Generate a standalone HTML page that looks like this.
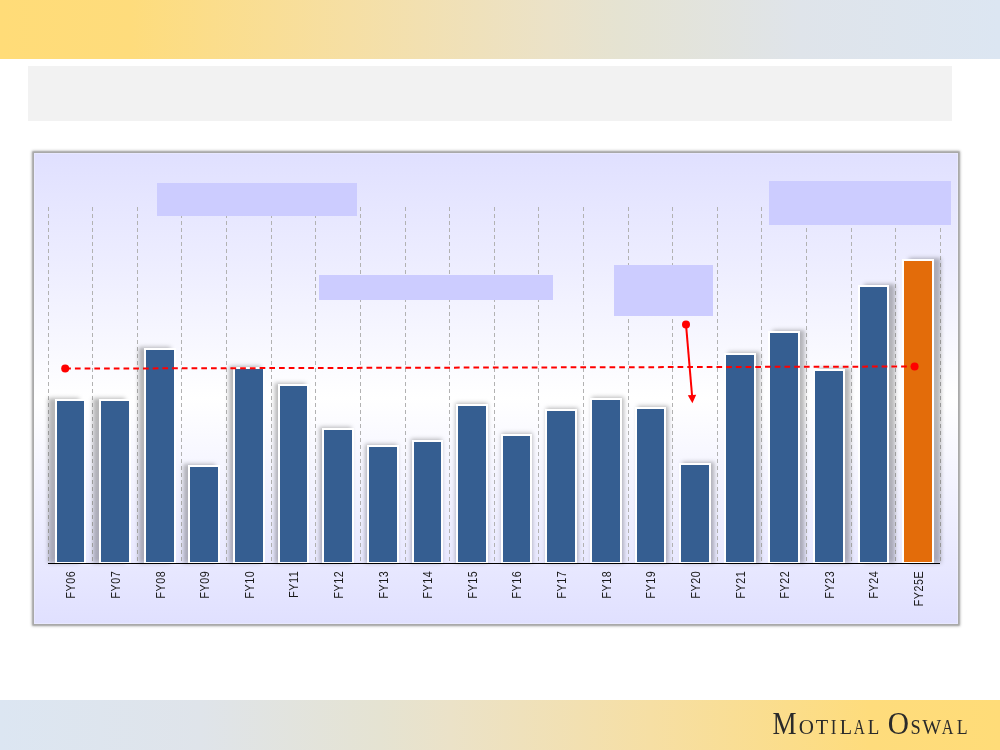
<!DOCTYPE html>
<html><head><meta charset="utf-8">
<style>
html,body{margin:0;padding:0;}
body{width:1000px;height:750px;position:relative;overflow:hidden;background:#fff;font-family:"Liberation Sans",sans-serif;}
.topband{position:absolute;left:0;top:0;width:1000px;height:59px;background:linear-gradient(90deg,#FFDC78 0%,#FEDC7C 13%,#F6DFA4 35%,#EBE2C8 55%,#E5E3D2 62%,#DFE4EA 80%,#DCE6F2 100%);}
.botband{position:absolute;left:0;top:700px;width:1000px;height:50px;background:linear-gradient(90deg,#DCE6F2 0%,#DFE4EA 20%,#E5E3D2 38%,#EBE2C8 45%,#F6DFA4 65%,#FEDC7C 87%,#FFDC78 100%);}
.graybox{position:absolute;left:28px;top:66px;width:924px;height:55px;background:#F2F2F2;}
.panel{position:absolute;left:34px;top:153px;width:924px;height:471px;background:linear-gradient(180deg,#E0E0FF 0%,#EEEEFF 25%,#FFFFFF 52%,#EEEEFF 78%,#E0E0FF 100%);box-shadow:inset 0 0 0 1px rgba(255,255,255,0.25),0 0 0 1.5px #A9A9A9,0 0 2.5px 2px rgba(150,150,150,0.9);}
svg{position:absolute;left:0;top:0;}
.box{position:absolute;background:#CCCCFF;}
</style></head><body>
<div class="topband"></div>
<div class="graybox"></div>
<div class="panel"></div>
<svg width="1000" height="750">
<defs><filter id="sh" x="-50%" y="-10%" width="200%" height="120%"><feGaussianBlur stdDeviation="2.3"/></filter></defs>
<g stroke="#B2B2B2" stroke-width="1" stroke-dasharray="4 3">
<line x1="48.5" y1="207" x2="48.5" y2="563"/><line x1="92.5" y1="207" x2="92.5" y2="563"/><line x1="137.5" y1="207" x2="137.5" y2="563"/><line x1="181.5" y1="207" x2="181.5" y2="563"/><line x1="226.5" y1="207" x2="226.5" y2="563"/><line x1="271.5" y1="207" x2="271.5" y2="563"/><line x1="315.5" y1="207" x2="315.5" y2="563"/><line x1="360.5" y1="207" x2="360.5" y2="563"/><line x1="405.5" y1="207" x2="405.5" y2="563"/><line x1="449.5" y1="207" x2="449.5" y2="563"/><line x1="494.5" y1="207" x2="494.5" y2="563"/><line x1="538.5" y1="207" x2="538.5" y2="563"/><line x1="583.5" y1="207" x2="583.5" y2="563"/><line x1="628.5" y1="207" x2="628.5" y2="563"/><line x1="672.5" y1="207" x2="672.5" y2="563"/><line x1="717.5" y1="207" x2="717.5" y2="563"/><line x1="761.5" y1="207" x2="761.5" y2="563"/><line x1="806.5" y1="207" x2="806.5" y2="563"/><line x1="851.5" y1="207" x2="851.5" y2="563"/><line x1="895.5" y1="207" x2="895.5" y2="563"/><line x1="940.5" y1="207" x2="940.5" y2="563"/>
</g>
<g fill="#000" fill-opacity="0.28" filter="url(#sh)"><rect x="48.22" y="398" width="31" height="165"/><rect x="92.94" y="398" width="32" height="165"/><rect x="138.66" y="347" width="32" height="216"/><rect x="183.36" y="464" width="32" height="99"/><rect x="229.08" y="366" width="32" height="197"/><rect x="274.79" y="383" width="31" height="180"/><rect x="319.50" y="427" width="32" height="136"/><rect x="365.22" y="444" width="32" height="119"/><rect x="410.94" y="439" width="31" height="124"/><rect x="455.65" y="403" width="32" height="160"/><rect x="501.36" y="433" width="31" height="130"/><rect x="546.07" y="408" width="32" height="155"/><rect x="591.79" y="397" width="32" height="166"/><rect x="637.50" y="406" width="31" height="157"/><rect x="682.22" y="462" width="32" height="101"/><rect x="727.94" y="352" width="32" height="211"/><rect x="772.64" y="330" width="32" height="233"/><rect x="818.36" y="368" width="32" height="195"/><rect x="864.07" y="284" width="31" height="279"/><rect x="908.78" y="258" width="32" height="305"/></g>
<g fill="#fff"><rect x="55" y="399" width="31" height="164"/><rect x="99" y="399" width="32" height="164"/><rect x="144" y="348" width="32" height="215"/><rect x="188" y="465" width="32" height="98"/><rect x="233" y="367" width="32" height="196"/><rect x="278" y="384" width="31" height="179"/><rect x="322" y="428" width="32" height="135"/><rect x="367" y="445" width="32" height="118"/><rect x="412" y="440" width="31" height="123"/><rect x="456" y="404" width="32" height="159"/><rect x="501" y="434" width="31" height="129"/><rect x="545" y="409" width="32" height="154"/><rect x="590" y="398" width="32" height="165"/><rect x="635" y="407" width="31" height="156"/><rect x="679" y="463" width="32" height="100"/><rect x="724" y="353" width="32" height="210"/><rect x="768" y="331" width="32" height="232"/><rect x="813" y="369" width="32" height="194"/><rect x="858" y="285" width="31" height="278"/><rect x="902" y="259" width="32" height="304"/></g>
<rect x="57" y="401" width="27" height="161" fill="#355E91"/><rect x="101" y="401" width="28" height="161" fill="#355E91"/><rect x="146" y="350" width="28" height="212" fill="#355E91"/><rect x="190" y="467" width="28" height="95" fill="#355E91"/><rect x="235" y="369" width="28" height="193" fill="#355E91"/><rect x="280" y="386" width="27" height="176" fill="#355E91"/><rect x="324" y="430" width="28" height="132" fill="#355E91"/><rect x="369" y="447" width="28" height="115" fill="#355E91"/><rect x="414" y="442" width="27" height="120" fill="#355E91"/><rect x="458" y="406" width="28" height="156" fill="#355E91"/><rect x="503" y="436" width="27" height="126" fill="#355E91"/><rect x="547" y="411" width="28" height="151" fill="#355E91"/><rect x="592" y="400" width="28" height="162" fill="#355E91"/><rect x="637" y="409" width="27" height="153" fill="#355E91"/><rect x="681" y="465" width="28" height="97" fill="#355E91"/><rect x="726" y="355" width="28" height="207" fill="#355E91"/><rect x="770" y="333" width="28" height="229" fill="#355E91"/><rect x="815" y="371" width="28" height="191" fill="#355E91"/><rect x="860" y="287" width="27" height="275" fill="#355E91"/><rect x="904" y="261" width="28" height="301" fill="#E36C0A"/>
<line x1="48" y1="563.5" x2="940" y2="563.5" stroke="#000" stroke-width="1"/>
<line x1="65.2" y1="368.6" x2="914.6" y2="366.5" stroke="#FF0000" stroke-width="2" stroke-dasharray="5.7 4.02"/>
<circle cx="65.2" cy="368.6" r="4" fill="#FF0000"/>
<circle cx="914.6" cy="366.5" r="4" fill="#FF0000"/>
<circle cx="686" cy="324.4" r="4" fill="#FF0000"/>
<line x1="686" y1="324.4" x2="692.1" y2="396" stroke="#FF0000" stroke-width="2"/>
<polygon points="687.8,395.3 696.2,394.7 692.4,403.3" fill="#FF0000"/>
</svg>
<div class="box" style="left:157px;top:183px;width:200px;height:33px;"></div>
<div class="box" style="left:319px;top:275px;width:234px;height:25px;"></div>
<div class="box" style="left:614px;top:265px;width:99px;height:51px;"></div>
<div class="box" style="left:769px;top:181px;width:182px;height:44px;"></div>
<svg width="1000" height="750" font-family="Liberation Sans" font-size="11.9" letter-spacing="0.6" text-anchor="end" fill="#1a1a1a" style="will-change:transform"><text transform="translate(75.30 570.8) rotate(-90) scale(0.9 1)">FY06</text><text transform="translate(119.80 570.8) rotate(-90) scale(0.9 1)">FY07</text><text transform="translate(164.80 570.8) rotate(-90) scale(0.9 1)">FY08</text><text transform="translate(208.80 570.8) rotate(-90) scale(0.9 1)">FY09</text><text transform="translate(253.80 570.8) rotate(-90) scale(0.9 1)">FY10</text><text transform="translate(298.30 570.8) rotate(-90) scale(0.9 1)">FY11</text><text transform="translate(342.80 570.8) rotate(-90) scale(0.9 1)">FY12</text><text transform="translate(387.80 570.8) rotate(-90) scale(0.9 1)">FY13</text><text transform="translate(432.30 570.8) rotate(-90) scale(0.9 1)">FY14</text><text transform="translate(476.80 570.8) rotate(-90) scale(0.9 1)">FY15</text><text transform="translate(521.30 570.8) rotate(-90) scale(0.9 1)">FY16</text><text transform="translate(565.80 570.8) rotate(-90) scale(0.9 1)">FY17</text><text transform="translate(610.80 570.8) rotate(-90) scale(0.9 1)">FY18</text><text transform="translate(655.30 570.8) rotate(-90) scale(0.9 1)">FY19</text><text transform="translate(699.80 570.8) rotate(-90) scale(0.9 1)">FY20</text><text transform="translate(744.80 570.8) rotate(-90) scale(0.9 1)">FY21</text><text transform="translate(788.80 570.8) rotate(-90) scale(0.9 1)">FY22</text><text transform="translate(833.80 570.8) rotate(-90) scale(0.9 1)">FY23</text><text transform="translate(878.30 570.8) rotate(-90) scale(0.9 1)">FY24</text><text transform="translate(922.80 570.8) rotate(-90) scale(0.9 1)">FY25E</text></svg>
<div class="botband"></div>
<svg width="1000" height="750" font-family="Liberation Serif" fill="#2a2a2a" style="will-change:transform"><text transform="translate(772.53 733.7) scale(0.859 1)" font-size="31.5">M</text><text transform="translate(798.83 733.7) scale(0.971 1)" font-size="21.7">O</text><text transform="translate(815.83 733.7) scale(0.936 1)" font-size="21.7">T</text><text transform="translate(830.67 733.7) scale(0.789 1)" font-size="21.7">I</text><text transform="translate(839.74 733.7) scale(0.929 1)" font-size="21.7">L</text><text transform="translate(853.66 733.7) scale(0.706 1)" font-size="21.7">A</text><text transform="translate(867.67 733.7) scale(0.876 1)" font-size="21.7">L</text><text transform="translate(887.70 733.7) scale(0.926 1)" font-size="31.8">O</text><text transform="translate(910.43 733.7) scale(0.848 1)" font-size="21.7">S</text><text transform="translate(922.20 733.7) scale(0.926 1)" font-size="21.7">W</text><text transform="translate(941.85 733.7) scale(0.745 1)" font-size="21.7">A</text><text transform="translate(956.81 733.7) scale(0.823 1)" font-size="21.7">L</text></svg>
</body></html>
